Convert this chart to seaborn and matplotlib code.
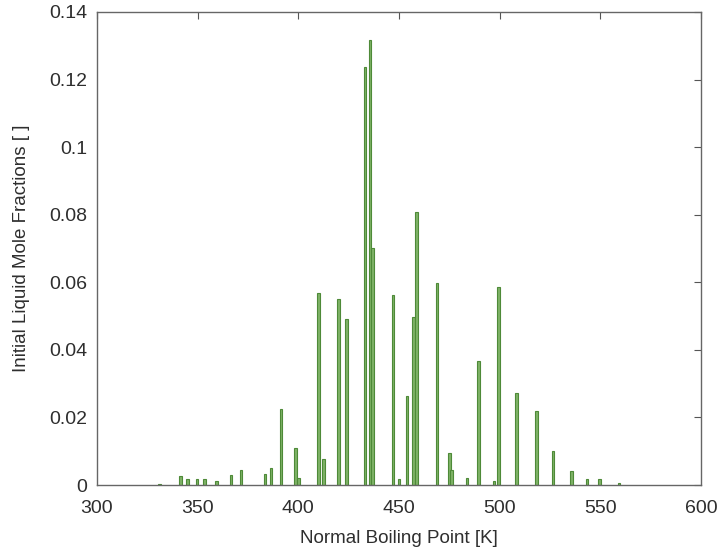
import numpy as np
import pandas as pd
import matplotlib
matplotlib.use("Agg")
import matplotlib.pyplot as plt
import seaborn as sns

boiling_point = [330.9, 341.6, 344.9, 349.7, 353.3, 359.5, 366.6, 371.5, 383.5, 386.4,
                 391.4, 398.5, 400.1, 409.9, 412.6, 420.1, 423.8, 433.1, 435.6, 436.8,
                 447.0, 450.0, 453.9, 457.3, 458.8, 468.9, 475.0, 476.0, 483.8, 489.5,
                 497.2, 499.4, 508.5, 518.2, 526.5, 535.6, 543.3, 549.5, 559.3]
mole_fraction = [0.0003, 0.0027, 0.0018, 0.0018, 0.0018, 0.0013, 0.0030, 0.0044, 0.0033, 0.0050,
                 0.0224, 0.0110, 0.0020, 0.0569, 0.0077, 0.0550, 0.0492, 0.1238, 0.1317, 0.0701,
                 0.0561, 0.0018, 0.0264, 0.0496, 0.0807, 0.0597, 0.0095, 0.0044, 0.0020, 0.0367,
                 0.0013, 0.0587, 0.0271, 0.0219, 0.0101, 0.0041, 0.0017, 0.0018, 0.0007]
x_ticks = [300, 350, 400, 450, 500, 550, 600]
y_ticks = [0, 0.02, 0.04, 0.06, 0.08, 0.1, 0.12, 0.14]
y_tick_labels = ["0", "0.02", "0.04", "0.06", "0.08", "0.1", "0.12", "0.14"]

df = pd.DataFrame({"bp": boiling_point, "x": mole_fraction})

sns.set_style("white")
plt.rcParams["font.family"] = ["Liberation Sans", "DejaVu Sans"]

fig = plt.figure(figsize=(7.17, 5.56), dpi=100)
ax = fig.add_axes([97 / 717, 71 / 556, 604 / 717, 473 / 556])

min_gap = np.min(np.diff(np.unique(df["bp"])))
target_width = 1.3
sns.barplot(data=df, x="bp", y="x", native_scale=True, orient="x",
            width=target_width / min_gap, color="#7fb367",
            edgecolor="#4e8a38", linewidth=0.8, saturation=1, ax=ax)

ax.set_xlim(300, 600)
ax.set_ylim(0, 0.14)
ax.set_xticks(x_ticks)
ax.set_xticklabels([str(t) for t in x_ticks])
ax.set_yticks(y_ticks)
ax.set_yticklabels(y_tick_labels)

txt = "#2e2e2e"
ax.tick_params(axis="both", direction="in", length=5, width=0.8, color="#555555",
               labelsize=14, labelcolor=txt, top=True, right=True)
ax.tick_params(axis="x", pad=11)
ax.tick_params(axis="y", pad=7)
for s in ax.spines.values():
    s.set_visible(True)
    s.set_color("#666666")
    s.set_linewidth(1.0)

ax.set_xlabel("Normal Boiling Point [K]", fontsize=13.5, color=txt, labelpad=9)
ax.set_ylabel("Initial Liquid Mole Fractions [ ]", fontsize=13.5, color=txt, labelpad=14)
ax.grid(False)

fig.savefig("out.png", dpi=100)
